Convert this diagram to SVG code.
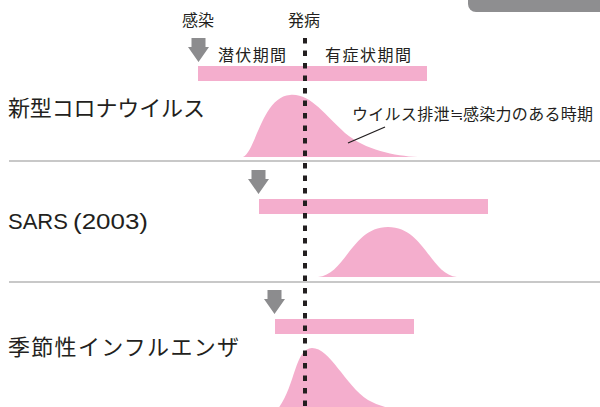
<svg xmlns="http://www.w3.org/2000/svg" width="600" height="407" viewBox="0 0 600 407">
<style>
.jp{font-family:"Noto Sans CJK JP","Noto Sans",sans-serif;fill:#231f20}
.lat{font-family:"Liberation Sans","Noto Sans",sans-serif;fill:#231f20}
.bar{fill:#f4aecd}
.curve{fill:#f4aecd}
.arrow{fill:#8c8c8e}
.sep{stroke:#c8c8c8;stroke-width:2;fill:none}
</style>
<defs>
<path id="arr" d="M3.5,0 H17.5 V9 H21 L10.5,24 L0,9 H3.5 Z"/>
</defs>
<rect x="468" y="-20" width="150" height="32" rx="8" fill="#8e8e90"/>
<line class="sep" x1="9" y1="161" x2="600" y2="161"/>
<line class="sep" x1="9" y1="282" x2="600" y2="282"/>
<g id="header">
<text class="jp" x="182" y="26" font-size="16">感染</text>
<text class="jp" x="288" y="26" font-size="16">発病</text>
<use href="#arr" class="arrow" x="188" y="38"/>
<text class="jp" x="218" y="61" font-size="16" textLength="68">潜伏期間</text>
<text class="jp" x="325" y="61" font-size="16" textLength="86">有症状期間</text>
</g>
<g id="covid">
<rect class="bar" x="198" y="66" width="229" height="15"/>
<text class="jp" x="8" y="116" font-size="22" textLength="197">新型コロナウイルス</text>
<path class="curve" d="M243,157 C256,151 262,97 290,95 C310,93 325,115 345,133 C365,150 395,156 418,157 Z"/>
<text class="jp" x="352" y="120" font-size="16" textLength="241">ウイルス排泄≒感染力のある時期</text>
<line x1="385" y1="127" x2="348" y2="143" stroke="#231f20" stroke-width="1.3"/>
</g>
<g id="sars">
<use href="#arr" class="arrow" x="248" y="170"/>
<rect class="bar" x="259" y="199" width="229" height="15"/>
<text class="lat" x="8" y="229" font-size="22">SARS</text>
<text class="lat" x="73" y="229" font-size="22" textLength="75" lengthAdjust="spacingAndGlyphs">(2003)</text>
<path class="curve" d="M318,277 C345,275 352,227 388,227 C424,227 431,275 457,277 Z"/>
</g>
<g id="flu">
<use href="#arr" class="arrow" x="264" y="290"/>
<rect class="bar" x="275" y="319" width="139" height="15"/>
<text class="jp" x="8" y="355" font-size="22" textLength="231">季節性インフルエンザ</text>
<path class="curve" d="M275,412 C295,392 294,348 312,348 C330,348 345,385 368,400 C382,408 400,411 420,412 Z"/>
</g>
<g id="connectors">
<line x1="305" y1="38" x2="305" y2="407" stroke="#231f20" stroke-width="4" stroke-dasharray="5.5 7"/>
</g>
</svg>
